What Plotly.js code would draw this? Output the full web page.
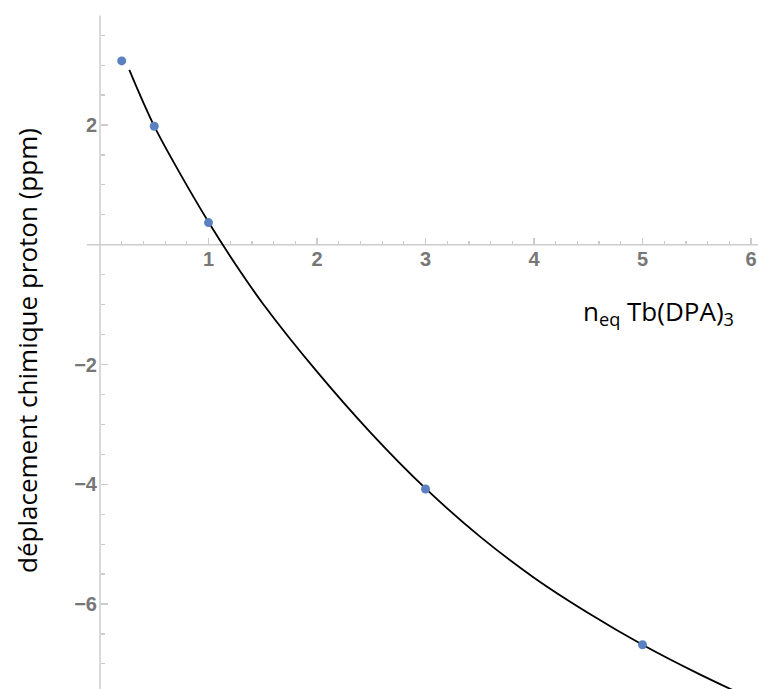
<!DOCTYPE html>
<html>
<head>
<meta charset="utf-8">
<script src="https://cdn.plot.ly/plotly-3.0.1.min.js"></script>
<style>html,body{margin:0;padding:0;background:#fff;}#chart{width:758px;height:689px;}</style>
</head>
<body>
<div id="chart"></div>
<script>
// Measured data points
var pointX = [0.2, 0.5, 1, 3, 5];
var pointY = [3.07, 1.98, 0.37, -4.08, -6.68];

// Fitted curve
var curveX = [0.27, 0.5, 0.75, 1.0, 1.25, 1.5, 2.0, 2.5, 3.0, 3.5, 4.0, 4.5, 5.0, 5.5, 6.0];
var curveY = [2.92, 1.98, 1.15, 0.38, -0.33, -0.98, -2.12, -3.15, -4.07, -4.87, -5.56, -6.15, -6.68, -7.15, -7.58];

// Tick labels
var xTickVals = [1, 2, 3, 4, 5, 6];
var xTickText = ["<b>1</b>", "<b>2</b>", "<b>3</b>", "<b>4</b>", "<b>5</b>", "<b>6</b>"];
var yTickVals = [-6, -4, -2, 2];
var yTickText = ["<b>\u22126</b>", "<b>\u22124</b>", "<b>\u22122</b>", "<b>2</b>"];
var xMinorVals = [0.2,0.4,0.6,0.8,1.2,1.4,1.6,1.8,2.2,2.4,2.6,2.8,3.2,3.4,3.6,3.8,4.2,4.4,4.6,4.8,5.2,5.4,5.6,5.8];
var yMinorVals = [-7,-6.5,-5.5,-5,-4.5,-3.5,-3,-2.5,-1.5,-1,-0.5,0.5,1,1.5,2.5,3,3.5];

var xTitle = "n<sub>eq</sub> Tb(DPA)<sub>3</sub>";
var yTitle = "déplacement chimique proton (ppm)";

var W = 758, H = 689;
var xScale = 108.5, x0px = 100;
var yScale = 59.875, y0px = 244.75;
var xRange = [-x0px / xScale, (W - x0px) / xScale];
var yRange = [-(H - y0px) / yScale, y0px / yScale];

var axisGray = "#cccccc";
var xPos = (H - y0px) / H, yPos = x0px / W;

var traces = [
  {x: curveX, y: curveY, mode: "lines", type: "scatter",
   line: {color: "#000000", width: 1.8, shape: "spline"}, hoverinfo: "skip"},
  {x: pointX, y: pointY, mode: "markers", type: "scatter",
   marker: {color: "#5b81c1", size: 9}, cliponaxis: false},
  {x: [xRange[0]], y: [yRange[0]], xaxis: "x2", yaxis: "y2", mode: "markers",
   marker: {opacity: 0}, hoverinfo: "skip"}
];

var layout = {
  width: W, height: H,
  margin: {l: 0, r: 0, t: 0, b: 0, pad: 0},
  paper_bgcolor: "#ffffff", plot_bgcolor: "#ffffff",
  showlegend: false,
  xaxis: {
    range: xRange, anchor: "free", position: xPos, automargin: false,
    showgrid: false, zeroline: false, showline: false,
    tickmode: "array", tickvals: xTickVals, ticktext: xTickText,
    ticks: "inside", ticklen: 7, tickwidth: 1.2, tickcolor: axisGray,
    tickfont: {family: "Liberation Sans", size: 20, color: "#777777"}
  },
  yaxis: {
    range: yRange, anchor: "free", position: yPos, automargin: false,
    showgrid: false, zeroline: false, showline: false,
    tickmode: "array", tickvals: yTickVals, ticktext: yTickText,
    ticks: "inside", ticklen: 7, tickwidth: 1.2, tickcolor: axisGray,
    tickfont: {family: "Liberation Sans", size: 20, color: "#777777"},
    ticklabelstandoff: 3
  },
  xaxis2: {
    range: xRange, anchor: "free", position: xPos, overlaying: "x",
    showgrid: false, zeroline: false, showline: false, showticklabels: false,
    tickmode: "array", tickvals: xMinorVals,
    ticks: "inside", ticklen: 4, tickwidth: 1.2, tickcolor: axisGray
  },
  yaxis2: {
    range: yRange, anchor: "free", position: yPos, overlaying: "y",
    showgrid: false, zeroline: false, showline: false, showticklabels: false,
    tickmode: "array", tickvals: yMinorVals,
    ticks: "inside", ticklen: 4, tickwidth: 1.2, tickcolor: axisGray
  },
  shapes: [
    {type: "line", xref: "x", yref: "y", x0: -0.12, x1: xRange[1] + 0.1, y0: 0, y1: 0, line: {color: axisGray, width: 1.5}, layer: "below"},
    {type: "line", xref: "x", yref: "y", x0: 0, x1: 0, y0: yRange[0] - 0.1, y1: 3.83, line: {color: axisGray, width: 1.5}, layer: "below"}
  ],
  annotations: [
    {text: xTitle, xref: "paper", yref: "paper", x: 658 / W, y: (H - 312) / H,
     xanchor: "center", yanchor: "middle", showarrow: false,
     font: {family: "Open Sans, sans-serif", size: 26, color: "#000000"}},
    {text: yTitle, xref: "paper", yref: "paper", x: 27 / W, y: (H - 351) / H,
     xanchor: "center", yanchor: "middle", showarrow: false, textangle: -90,
     font: {family: "Open Sans, sans-serif", size: 26, color: "#000000"}}
  ]
};

Plotly.newPlot("chart", traces, layout, {displayModeBar: false, staticPlot: true});
</script>
</body>
</html>
